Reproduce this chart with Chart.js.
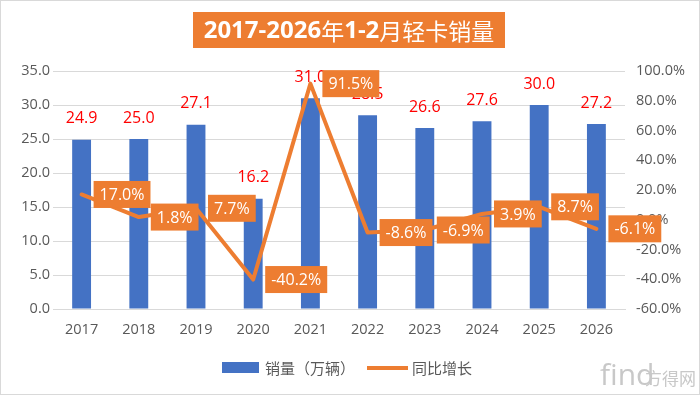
<!DOCTYPE html>
<html>
<head>
<meta charset="utf-8">
<script src="https://cdn.jsdelivr.net/npm/chart.js@4"></script>
<style>
html,body{margin:0;padding:0;background:#fff;}
#wrap{width:700px;height:395px;position:relative;}
</style>
</head>
<body>
<div id="wrap"><canvas id="c" width="700" height="395"></canvas></div>
<script>
const categories = ['2017','2018','2019','2020','2021','2022','2023','2024','2025','2026'];
const sales = [24.9, 25.0, 27.1, 16.2, 31.0, 28.5, 26.6, 27.6, 30.0, 27.2];
const growth = [17.0, 1.8, 7.7, -40.2, 91.5, -8.6, -6.9, 3.9, 8.7, -6.1];
const seriesNames = ['销量（万辆）', '同比增长'];
const titleText = '2017-2026年1-2月轻卡销量';

const FONT = "'Open Sans', 'Noto Sans CJK SC', sans-serif";
const CJK = "'Noto Sans CJK SC', 'Open Sans', sans-serif";
const BLUE = '#4472C4', ORANGE = '#ED7D31', GRAY = '#595959';

const labelPlugin = {
  id: 'labels',
  beforeDraw(chart) {
    const ctx = chart.ctx;
    ctx.save();
    ctx.fillStyle = '#fff';
    ctx.fillRect(0, 0, chart.width, chart.height);
    ctx.restore();
  },
  afterDatasetDraw(chart, args) {
    if (args.index !== 0) return;
    const ctx = chart.ctx;
    const meta = chart.getDatasetMeta(0);
    ctx.save();
    ctx.font = '16px ' + FONT;
    ctx.fillStyle = '#FF0000';
    ctx.textAlign = 'center';
    ctx.textBaseline = 'middle';
    meta.data.forEach((el, i) => {
      ctx.fillText(sales[i].toFixed(1), el.x, el.y - 21);
    });
    ctx.restore();
  },
  afterDatasetsDraw(chart) {
    const ctx = chart.ctx;
    const meta = chart.getDatasetMeta(1);
    ctx.save();
    ctx.font = '16px ' + FONT;
    ctx.textBaseline = 'middle';
    ctx.textAlign = 'left';
    meta.data.forEach((el, i) => {
      const t = growth[i].toFixed(1) + '%';
      const w = ctx.measureText(t).width + 12;
      const h = 27;
      const x0 = el.x + 12;
      const y0 = el.y - h / 2;
      ctx.fillStyle = ORANGE;
      ctx.fillRect(x0, y0, w, h);
      ctx.fillStyle = '#fff';
      ctx.fillText(t, x0 + 6, el.y + 1);
    });
    ctx.restore();
  },
  afterDraw(chart) {
    const ctx = chart.ctx;
    ctx.save();
    // title
    ctx.fillStyle = ORANGE;
    ctx.fillRect(193, 12, 312, 36);
    const segs = [['2017-2026', 'bold 24px ' + FONT], ['年', '23px ' + CJK], ['1-2', 'bold 24px ' + FONT], ['月轻卡销量', '23px ' + CJK]];
    let total = 0;
    segs.forEach(s => { ctx.font = s[1]; s.w = ctx.measureText(s[0]).width; total += s.w; });
    let x = 349 - total / 2;
    ctx.fillStyle = '#fff';
    ctx.textBaseline = 'middle';
    ctx.textAlign = 'left';
    segs.forEach(s => { ctx.font = s[1]; ctx.fillText(s[0], x, 31); x += s.w; });
    // legend
    ctx.fillStyle = BLUE;
    ctx.fillRect(222, 362, 37, 11);
    ctx.font = '15px ' + CJK;
    ctx.fillStyle = GRAY;
    ctx.fillText(seriesNames[0], 265, 368);
    ctx.strokeStyle = ORANGE;
    ctx.lineWidth = 4;
    ctx.beginPath(); ctx.moveTo(367, 368); ctx.lineTo(408, 368); ctx.stroke();
    ctx.fillStyle = GRAY;
    ctx.fillText(seriesNames[1], 412, 368);
    // watermark
    ctx.fillStyle = '#c8c8c8';
    ctx.font = '30px ' + FONT;
    ctx.textBaseline = 'alphabetic';
    ctx.fillText('find', 600, 385);
    ctx.font = '17px ' + CJK;
    ctx.fillText('方得网', 645, 385);
    // border
    ctx.strokeStyle = '#d9d9d9';
    ctx.lineWidth = 1;
    ctx.strokeRect(0.5, 0.5, 699, 394);
    ctx.restore();
  }
};

new Chart(document.getElementById('c'), {
  data: {
    labels: categories,
    datasets: [
      { type: 'bar', label: seriesNames[0], data: sales, backgroundColor: BLUE, yAxisID: 'y', order: 2,
        barPercentage: 0.33, categoryPercentage: 1.0 },
      { type: 'line', label: seriesNames[1], data: growth, borderColor: ORANGE, borderWidth: 4, pointRadius: 0,
        tension: 0, yAxisID: 'y1', order: 1, borderJoinStyle: 'round', borderCapStyle: 'round' }
    ]
  },
  options: {
    responsive: false,
    animation: false,
    devicePixelRatio: 1,
    layout: { padding: { top: 71, bottom: 56, left: 0, right: 0 } },
    plugins: { legend: { display: false }, title: { display: false }, tooltip: { enabled: false } },
    scales: {
      x: {
        grid: { display: false, drawTicks: false },
        border: { display: true, color: '#d9d9d9', width: 1 },
        ticks: { color: GRAY, font: { size: 14.5, family: FONT }, padding: 12, maxRotation: 0 },
        afterFit(s) { s.height = 30; }
      },
      y: {
        position: 'left', min: 0, max: 35,
        grid: { color: '#d9d9d9', drawTicks: false },
        border: { display: false },
        ticks: { stepSize: 5, color: GRAY, font: { size: 14.5, family: FONT }, padding: 3,
          callback: v => v.toFixed(1) },
        afterFit(s) { s.width = 53; }
      },
      y1: {
        position: 'right', min: -60, max: 100,
        grid: { display: false, drawTicks: false },
        border: { display: false },
        ticks: { stepSize: 20, color: GRAY, font: { size: 14.5, family: FONT }, padding: 11,
          callback: v => v.toFixed(1) + '%' },
        afterFit(s) { s.width = 75; }
      }
    }
  },
  plugins: [labelPlugin]
});
</script>
</body>
</html>
